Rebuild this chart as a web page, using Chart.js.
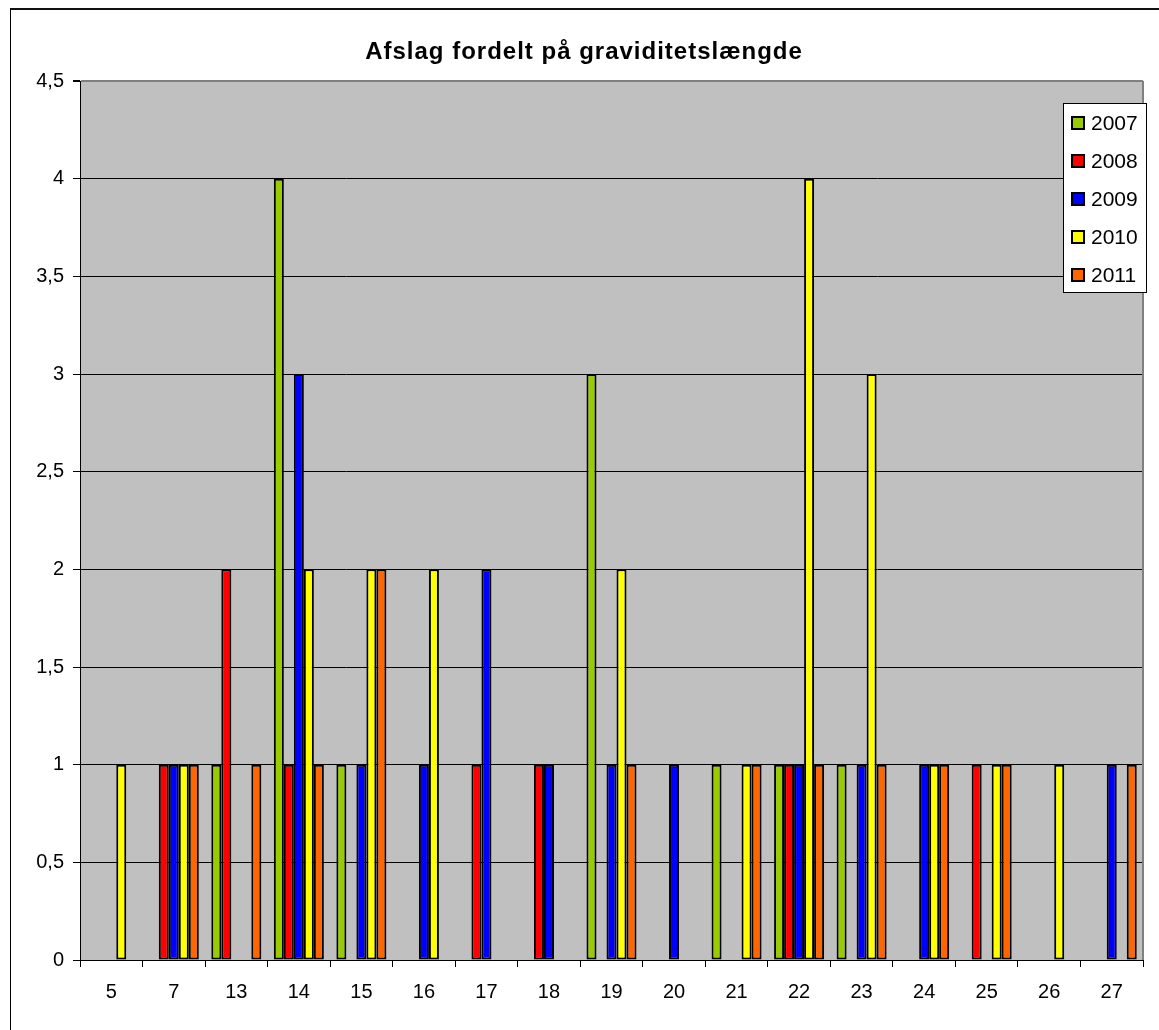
<!DOCTYPE html>
<html>
<head>
<meta charset="utf-8">
<script src="https://cdn.jsdelivr.net/npm/chart.js@4"></script>
<style>
  html, body { margin: 0; padding: 0; background: #fff; overflow: hidden; }
  #wrap { position: relative; width: 1159px; height: 1030px; }
  #frame { position: absolute; left: 10px; top: 8px; width: 1200px; height: 1100px; border-left: 1px solid #000; border-top: 2px solid #111; }
  #title { position: absolute; left: 0; top: 39px; width: 1168px; text-align: center; font-family: 'Liberation Sans', Arial, sans-serif; font-weight: bold; font-size: 24px; line-height: 24px; letter-spacing: 1px; color: #000; }
  #legend { position: absolute; left: 1063px; top: 103px; width: 82px; height: 188px; background: #fff; border: 1px solid #000; font-family: 'Liberation Sans', Arial, sans-serif; font-size: 21px; color: #000; }
  .item { position: absolute; left: 7px; height: 24px; line-height: 24px; white-space: nowrap; }
  .sw { display: inline-block; width: 10px; height: 10px; border: 2px solid #000; vertical-align: middle; margin-right: 6px; margin-top: -3px; }
</style>
</head>
<body>
<div id="wrap">
  <canvas id="chart" width="1159" height="1030"></canvas>
  <div id="frame"></div>
  <div id="title">Afslag fordelt på graviditetslængde</div>
  <div id="legend"></div>
</div>
<script>
const categories = ['5', '7', '13', '14', '15', '16', '17', '18', '19', '20', '21', '22', '23', '24', '25', '26', '27'];
const seriesNames = ['2007', '2008', '2009', '2010', '2011'];
const seriesColors = ['#99CC00', '#FF0000', '#0000FF', '#FFFF00', '#FF6600'];
const y2007 = [0, 0, 1, 4, 1, 0, 0, 0, 3, 0, 1, 1, 1, 0, 0, 0, 0];
const y2008 = [0, 1, 2, 1, 0, 0, 1, 1, 0, 0, 0, 1, 0, 0, 1, 0, 0];
const y2009 = [0, 1, 0, 3, 1, 1, 2, 1, 1, 1, 0, 1, 1, 1, 0, 0, 1];
const y2010 = [1, 1, 0, 2, 2, 2, 0, 0, 2, 0, 1, 4, 3, 1, 1, 1, 0];
const y2011 = [0, 1, 1, 1, 2, 0, 0, 0, 1, 0, 1, 1, 1, 1, 1, 0, 1];
const seriesValues = [y2007, y2008, y2009, y2010, y2011];

const font = "'Liberation Sans', Arial, sans-serif";

// grey plot area plus the grey right edge like the excel original
const plotArea = {
    id: 'plotArea',
    beforeDraw(chart) {
        const { ctx, chartArea: a } = chart;
        ctx.save();
        ctx.fillStyle = '#C0C0C0';
        ctx.fillRect(a.left, a.top, a.right - a.left, a.bottom - a.top);
        ctx.restore();
    },
    afterDraw(chart) {
        const { ctx, chartArea: a } = chart;
        ctx.save();
        ctx.strokeStyle = '#808080';
        ctx.lineWidth = 2;
        ctx.beginPath();
        ctx.moveTo(a.right, a.top);
        ctx.lineTo(a.right, a.bottom);
        ctx.stroke();
        ctx.restore();
    }
};

new Chart(document.getElementById('chart'), {
    type: 'bar',
    data: {
        labels: categories,
        datasets: seriesNames.map((name, i) => ({
            label: name,
            data: seriesValues[i],
            backgroundColor: seriesColors[i],
            borderColor: '#000',
            borderWidth: 2,
            borderSkipped: false,
            categoryPercentage: 0.8,
            barPercentage: 1.0
        }))
    },
    options: {
        responsive: false,
        animation: false,
        layout: { padding: { left: 0, right: 16, top: 81, bottom: 0 } },
        plugins: {
            legend: { display: false },
            tooltip: { enabled: false },
            title: { display: false }
        },
        scales: {
            x: {
                grid: { drawOnChartArea: false, drawTicks: true, tickLength: 7, offset: true, color: '#000' },
                border: { color: '#000', width: 1 },
                ticks: { color: '#000', font: { family: font, size: 20 }, padding: 13, maxRotation: 0 },
                afterFit(scale) { scale.height = 70; }
            },
            y: {
                min: 0,
                max: 4.5,
                ticks: {
                    stepSize: 0.5,
                    color: '#000',
                    font: { family: font, size: 20 },
                    padding: 9,
                    callback: v => String(v).replace('.', ',')
                },
                grid: {
                    color: c => (c.tick && c.tick.value === 4.5) ? '#808080' : '#000',
                    lineWidth: c => (c.tick && c.tick.value === 4.5) ? 2 : 1,
                    tickColor: '#000',
                    tickLength: 7
                },
                border: { color: '#000', width: 1 },
                afterFit(scale) { scale.width = 80; }
            }
        }
    },
    plugins: [plotArea]
});

const legendEl = document.getElementById('legend');
seriesNames.forEach((name, i) => {
    const item = document.createElement('div');
    item.className = 'item';
    item.style.top = (7 + i * 38) + 'px';
    item.innerHTML = `<span class="sw" style="background:${seriesColors[i]}"></span>${name}`;
    legendEl.appendChild(item);
});
</script>
</body>
</html>
